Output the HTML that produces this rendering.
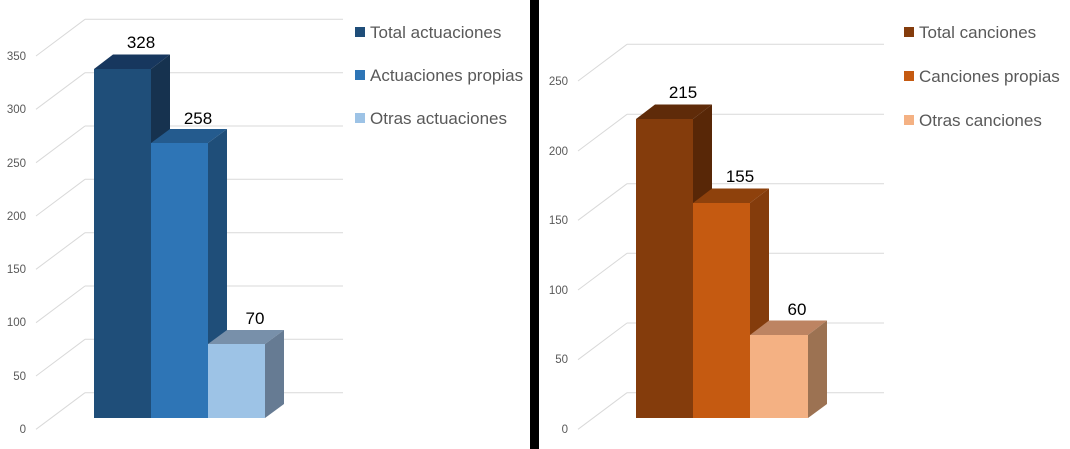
<!DOCTYPE html>
<html><head><meta charset="utf-8"><style>
html,body{margin:0;padding:0;background:#fff;}
svg{display:block;font-family:"Liberation Sans",sans-serif;}
.g{stroke:#d9d9d9;stroke-width:1;fill:none}
.t{fill:#595959;font-size:11.5px;text-anchor:end}
.v{fill:#000;font-size:17px;text-anchor:middle}
.l{fill:#595959;font-size:17px}
</style></head><body>
<svg width="1070" height="449" viewBox="0 0 1070 449">
<rect x="530" y="0" width="9" height="449" fill="#000"/>
<g class="g">
<path d="M85 19.3H343M36 56L85 19.3"/>
<path d="M85 72.7H343M36 109.3L85 72.7"/>
<path d="M85 126H343M36 162.7L85 126"/>
<path d="M85 179.3H343M36 216L85 179.3"/>
<path d="M85 232.7H343M36 269.3L85 232.7"/>
<path d="M85 286H343M36 322.7L85 286"/>
<path d="M85 339.3H343M36 376L85 339.3"/>
<path d="M85 392.7H343M36 429.3L85 392.7"/>
</g>
<g class="t">
<text x="26" y="60">350</text><text x="26" y="113">300</text><text x="26" y="167">250</text>
<text x="26" y="220">200</text><text x="26" y="273">150</text><text x="26" y="326">100</text>
<text x="26" y="380">50</text><text x="26" y="433">0</text>
</g>
<polygon points="94,69 113,54.5 170,54.5 151,69" fill="#17375e"/>
<polygon points="151,69 170,54.5 170,404 151,418" fill="#16324f"/>
<rect x="94" y="69" width="57" height="349" fill="#1f4e79"/>
<polygon points="151,143 170,129 227,129 208,143" fill="#245b8e"/>
<polygon points="208,143 227,129 227,404 208,418" fill="#1f4e79"/>
<rect x="151" y="143" width="57" height="275" fill="#2e75b6"/>
<polygon points="208,344 227,330 284,330 265,344" fill="#7890aa"/>
<polygon points="265,344 284,330 284,404 265,418" fill="#667b93"/>
<rect x="208" y="344" width="57" height="74" fill="#9dc3e6"/>
<text class="v" x="141" y="48">328</text>
<text class="v" x="198" y="124">258</text>
<text class="v" x="255" y="324">70</text>
<rect x="355" y="27" width="10" height="10" fill="#1f4e79"/><text class="l" x="370" y="38">Total actuaciones</text>
<rect x="355" y="70" width="10" height="10" fill="#2e75b6"/><text class="l" x="370" y="81">Actuaciones propias</text>
<rect x="355" y="113" width="10" height="10" fill="#9dc3e6"/><text class="l" x="370" y="124">Otras actuaciones</text>
<g class="g">
<path d="M627 44.3H884M578 81L627 44.3"/>
<path d="M627 114.3H884M578 151L627 114.3"/>
<path d="M627 183.7H884M578 220.3L627 183.7"/>
<path d="M627 253.3H884M578 290L627 253.3"/>
<path d="M627 323H884M578 359.7L627 323"/>
<path d="M627 392.7H884M578 429.3L627 392.7"/>
</g>
<g class="t">
<text x="568" y="85">250</text><text x="568" y="155">200</text><text x="568" y="224">150</text>
<text x="568" y="294">100</text><text x="568" y="363">50</text><text x="568" y="433">0</text>
</g>
<polygon points="636,119 655,104.5 712,104.5 693,119" fill="#5f2b09"/>
<polygon points="693,119 712,104.5 712,404 693,418" fill="#582707"/>
<rect x="636" y="119" width="57" height="299" fill="#843c0c"/>
<polygon points="693,203 712,188.5 769,188.5 750,203" fill="#8e410c"/>
<polygon points="750,203 769,188.5 769,404 750,418" fill="#843c0c"/>
<rect x="693" y="203" width="57" height="215" fill="#c55a11"/>
<polygon points="750,335 769,320.5 827,320.5 808,335" fill="#bd8462"/>
<polygon points="808,335 827,320.5 827,404 808,418" fill="#9c7252"/>
<rect x="750" y="335" width="58" height="83" fill="#f4b183"/>
<text class="v" x="683" y="98">215</text>
<text class="v" x="740" y="182">155</text>
<text class="v" x="797" y="315">60</text>
<rect x="904" y="27" width="10" height="10" fill="#843c0c"/><text class="l" x="919" y="38">Total canciones</text>
<rect x="904" y="71" width="10" height="10" fill="#c55a11"/><text class="l" x="919" y="82">Canciones propias</text>
<rect x="904" y="115" width="10" height="10" fill="#f4b183"/><text class="l" x="919" y="126">Otras canciones</text>
</svg>
</body></html>
